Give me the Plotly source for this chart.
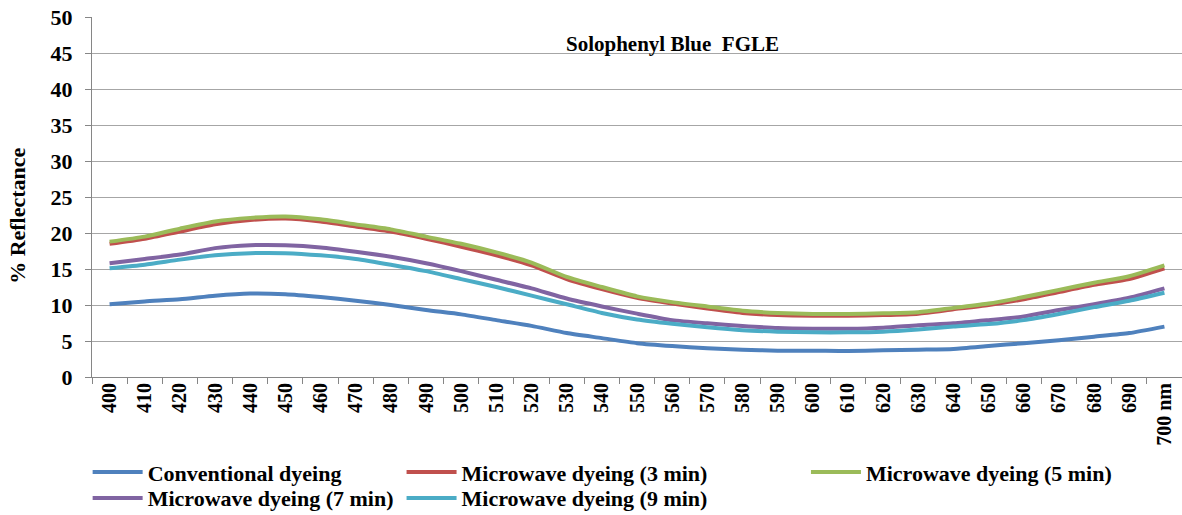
import plotly.graph_objects as go

# wavelength categories (last one labelled with the unit)
wavelengths = ['400', '410', '420', '430', '440', '450', '460', '470', '480', '490',
               '500', '510', '520', '530', '540', '550', '560', '570', '580', '590',
               '600', '610', '620', '630', '640', '650', '660', '670', '680', '690',
               '700 nm']

conventional = [10.1, 10.5, 10.8, 11.3, 11.6, 11.5, 11.1, 10.6, 10.0, 9.3,
                8.7, 7.9, 7.1, 6.1, 5.4, 4.7, 4.3, 4.0, 3.8, 3.65,
                3.65, 3.6, 3.7, 3.8, 3.9, 4.3, 4.7, 5.1, 5.6, 6.1,
                7.0]
mw_3min = [18.5, 19.2, 20.2, 21.2, 21.8, 22.0, 21.6, 20.9, 20.2, 19.2,
           18.1, 16.9, 15.5, 13.6, 12.2, 11.0, 10.2, 9.5, 8.9, 8.6,
           8.5, 8.5, 8.6, 8.8, 9.4, 10.0, 10.8, 11.8, 12.8, 13.6,
           15.1]
mw_5min = [18.8, 19.5, 20.6, 21.6, 22.1, 22.3, 21.9, 21.2, 20.5, 19.5,
           18.5, 17.3, 15.9, 13.9, 12.5, 11.2, 10.4, 9.8, 9.2, 8.9,
           8.75, 8.75, 8.85, 9.0, 9.6, 10.2, 11.1, 12.1, 13.1, 14.0,
           15.5]
mw_7min = [15.8, 16.4, 17.0, 17.9, 18.3, 18.3, 18.0, 17.4, 16.7, 15.8,
           14.7, 13.5, 12.3, 10.9, 9.8, 8.8, 7.9, 7.45, 7.1, 6.8,
           6.7, 6.7, 6.85, 7.2, 7.45, 7.9, 8.4, 9.3, 10.1, 11.0,
           12.3]
mw_9min = [15.1, 15.6, 16.3, 16.9, 17.2, 17.2, 16.9, 16.4, 15.6, 14.7,
           13.6, 12.5, 11.3, 10.1, 8.9, 8.0, 7.4, 6.9, 6.5, 6.3,
           6.2, 6.2, 6.3, 6.6, 7.0, 7.35, 7.9, 8.75, 9.7, 10.6,
           11.7]

# one legend per entry so the Excel-style grid can be reproduced
series = [
    ('Conventional dyeing', conventional, '#4F81BD', 'legend'),
    ('Microwave dyeing (3 min)', mw_3min, '#C0504D', 'legend2'),
    ('Microwave dyeing (5 min)', mw_5min, '#9BBB59', 'legend3'),
    ('Microwave dyeing (7 min)', mw_7min, '#8064A2', 'legend4'),
    ('Microwave dyeing (9 min)', mw_9min, '#4BACC6', 'legend5'),
]

serif = 'Liberation Serif'

fig = go.Figure()
for name, vals, color, leg in series:
    fig.add_trace(go.Scatter(
        x=wavelengths, y=vals, name=name, mode='lines',
        line=dict(color=color, width=4, shape='spline', smoothing=0.6),
        legend=leg
    ))

legend_common = dict(
    orientation='v', yanchor='top', xanchor='left',
    font=dict(family=serif, size=22, color='black', weight='bold'),
    tracegroupgap=0, itemwidth=50, bgcolor='rgba(0,0,0,0)'
)

row1, row2 = -0.206, -0.278
col1, col2, col3 = -0.004, 0.284, 0.655

fig.update_layout(
    width=1182, height=515,
    margin=dict(l=92, r=0, t=17, b=138, autoexpand=False),
    paper_bgcolor='white', plot_bgcolor='white',
    showlegend=True,
    legend=dict(x=col1, y=row1, **legend_common),
    legend2=dict(x=col2, y=row1, **legend_common),
    legend3=dict(x=col3, y=row1, **legend_common),
    legend4=dict(x=col1, y=row2, **legend_common),
    legend5=dict(x=col2, y=row2, **legend_common),
    annotations=[
        dict(text='Solophenyl Blue\u00a0\u00a0FGLE', xref='paper', yref='paper',
             x=0.533, y=0.925, showarrow=False, xanchor='center', yanchor='middle',
             font=dict(family=serif, size=21, color='black', weight='bold')),
        dict(text='% Reflectance', xref='paper', yref='paper',
             x=-0.069, y=0.447, showarrow=False, textangle=-90,
             xanchor='center', yanchor='middle',
             font=dict(family=serif, size=22, color='black', weight='bold')),
    ]
)

fig.update_xaxes(
    type='category', tickson='boundaries', ticks='outside', ticklen=6,
    tickcolor='#868686', showline=True, linecolor='#868686', linewidth=1,
    showgrid=False, tickangle=-90, automargin=False, ticklabelstandoff=-3,
    tickfont=dict(family=serif, size=20, color='black', weight='bold'),
    range=[-0.5, 30.5]
)

fig.update_yaxes(
    range=[0, 50], dtick=5, ticks='outside', ticklen=6, tickcolor='#868686',
    showline=True, linecolor='#868686', linewidth=1, automargin=False,
    showgrid=True, gridcolor='#a6a6a6', gridwidth=1, zeroline=False,
    ticklabelstandoff=8,
    tickfont=dict(family=serif, size=22, color='black', weight='bold')
)

# drop the default page margin so the figure fills the window exactly
fig.write_html('out.html', config={'displayModeBar': False},
               post_script="document.body.style.margin='0';")
